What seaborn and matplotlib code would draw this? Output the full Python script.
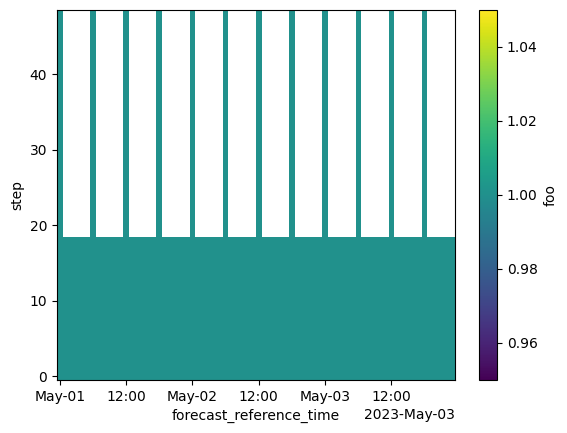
import numpy as np
import pandas as pd
import matplotlib
matplotlib.use("Agg")
import matplotlib.pyplot as plt
import matplotlib.dates as mdates
import seaborn as sns

# --- data ---
forecast_reference_time = pd.date_range("2023-05-01 00:00", "2023-05-03 23:00", freq="h")
step = np.arange(0, 49)                 # forecast step (hours)
short_run_max_step = 18                 # hourly runs reach step 18
long_run_hours = [0, 6, 12, 18]         # runs reaching full range
long_run_max_step = 48
value = 1.0                             # value of 'foo' wherever defined

# build the field (NaN where the run does not reach that step)
max_step = np.array([long_run_max_step if t.hour in long_run_hours else short_run_max_step
                     for t in forecast_reference_time])
foo = np.where(step[:, None] <= max_step[None, :], value, np.nan)

# --- plot ---
cmap = sns.color_palette("viridis", as_cmap=True)
fig = plt.figure(figsize=(5.67, 4.33), dpi=100)
ax = fig.add_axes([0.1005, 0.1224, 0.702, 0.8546])
cax = fig.add_axes([0.845, 0.1224, 0.0318, 0.8546])

times = forecast_reference_time.values
half = np.timedelta64(30, "m")
xedges = np.concatenate([times - half, [times[-1] + half]])
yedges = np.concatenate([step - 0.5, [step[-1] + 0.5]])
mesh = ax.pcolormesh(xedges, yedges, np.ma.masked_invalid(foo), cmap=cmap,
                     vmin=value - 0.05, vmax=value + 0.05)

locator = mdates.AutoDateLocator()
ax.xaxis.set_major_locator(locator)
ax.xaxis.set_major_formatter(mdates.ConciseDateFormatter(locator))
ax.set_xlabel("forecast_reference_time")
ax.set_ylabel("step")

cb = fig.colorbar(mesh, cax=cax)
cb.set_label("foo")

fig.savefig("out.png", dpi=100)
